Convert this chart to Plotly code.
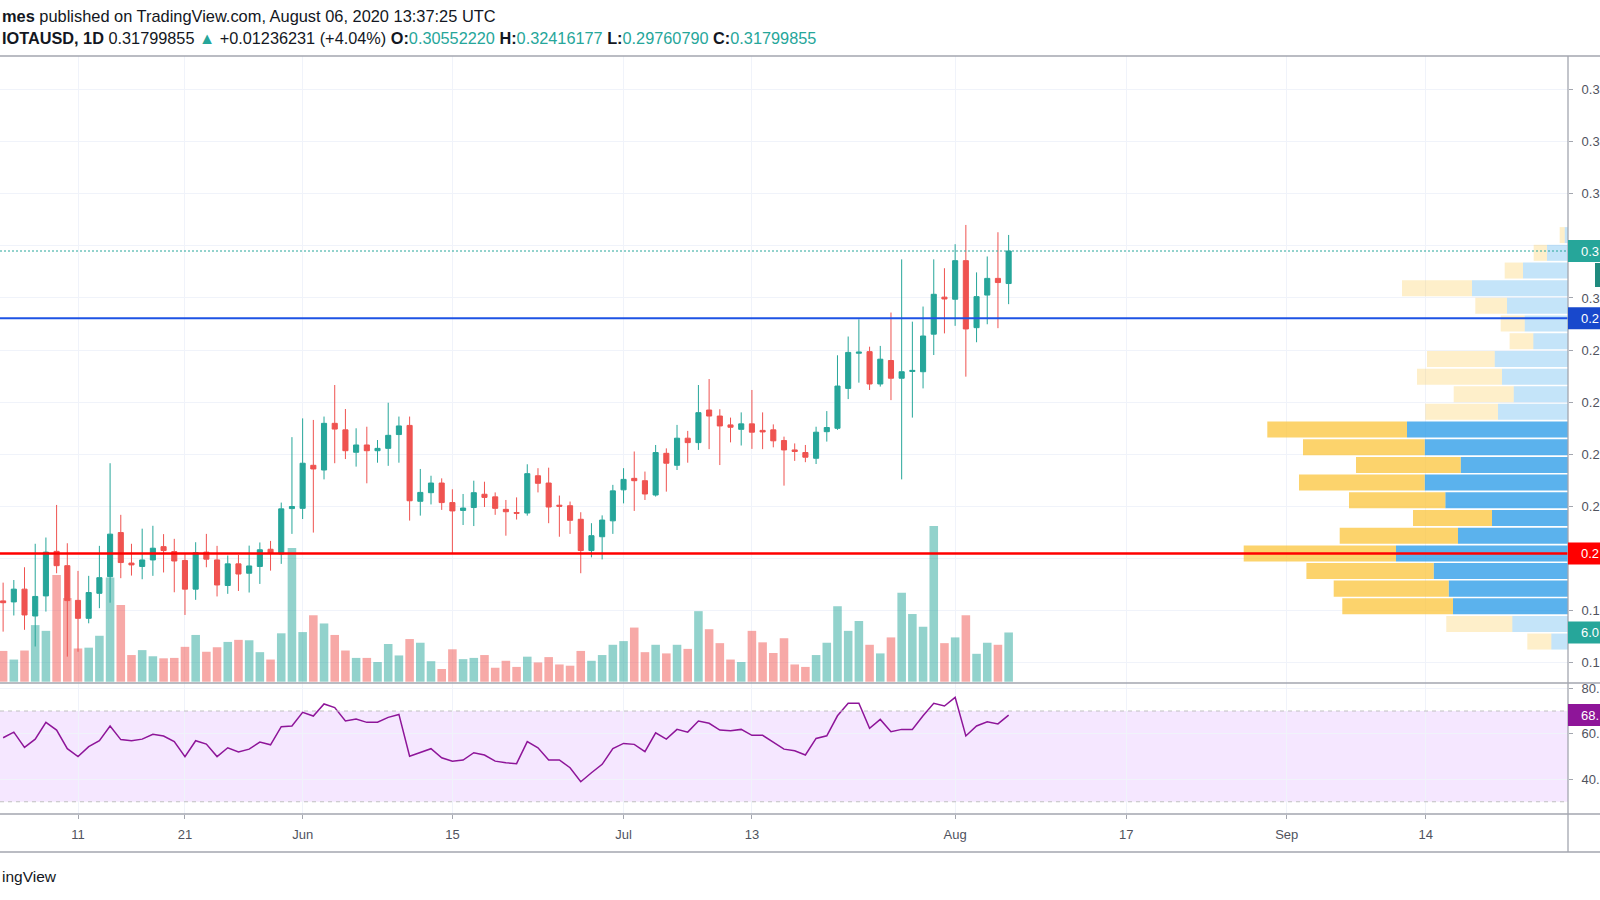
import plotly.graph_objects as go
import pandas as pd

# ---------------- data ----------------
dates = pd.date_range("2020-05-04", "2020-08-06", freq="D")

opens = [0.1838, 0.1834, 0.1883, 0.1780, 0.1857, 0.2028, 0.1973, 0.1840, 0.1771, 0.1867,
         0.1931, 0.2100, 0.1983, 0.1970, 0.1995, 0.2046, 0.2027, 0.1993, 0.1883, 0.2025,
         0.1995, 0.1897, 0.1980, 0.1944, 0.1970, 0.2036, 0.2018, 0.2192,
         0.2193, 0.2358, 0.2340, 0.2519, 0.2494, 0.2408, 0.2436, 0.2414, 0.2423, 0.2476,
         0.2511, 0.2220, 0.2253, 0.2290, 0.2215, 0.2185, 0.2196, 0.2247, 0.2237, 0.2189,
         0.2177, 0.2175, 0.2318, 0.2290, 0.2205, 0.2203, 0.2151, 0.2031, 0.2084, 0.2145,
         0.2264, 0.2308, 0.2299, 0.2244, 0.2404, 0.2358, 0.2462, 0.2445, 0.2570, 0.2547,
         0.2513, 0.2496, 0.2517, 0.2492, 0.2494, 0.2453, 0.2417, 0.2407, 0.2385, 0.2487,
         0.2500, 0.2653, 0.2788, 0.2794, 0.2670, 0.2760, 0.2692, 0.2718, 0.2717, 0.2861,
         0.3003,
         0.2995, 0.3143, 0.2886, 0.3011, 0.3075, 0.30552220]
highs = [0.1908, 0.1918, 0.1967, 0.2057, 0.2081, 0.2206, 0.2059, 0.1953, 0.1934, 0.2049,
         0.2366, 0.2168, 0.2057, 0.2115, 0.2126, 0.2094, 0.2076, 0.2021, 0.2063, 0.2095,
         0.2049, 0.2012, 0.2014, 0.2050, 0.2062, 0.2068, 0.2215, 0.2466,
         0.2538, 0.2532, 0.2545, 0.2666, 0.2574, 0.2500, 0.2506, 0.2455, 0.2598, 0.2545,
         0.2545, 0.2344, 0.2318, 0.2308, 0.2266, 0.2248, 0.2299, 0.2295, 0.2254, 0.2225,
         0.2235, 0.2362, 0.2347, 0.2349, 0.2242, 0.2219, 0.2178, 0.2136, 0.2166, 0.2283,
         0.2347, 0.2411, 0.2334, 0.2436, 0.2423, 0.2513, 0.2490, 0.2666, 0.2689, 0.2573,
         0.2541, 0.2561, 0.2647, 0.2561, 0.2515, 0.2468, 0.2442, 0.2436, 0.2506, 0.2566,
         0.2780, 0.2852, 0.2918, 0.2813, 0.2816, 0.2944, 0.3148, 0.2909, 0.2967, 0.3148,
         0.3114,
         0.3206, 0.3280, 0.3098, 0.3159, 0.3252, 0.32416177]
lows = [0.1720, 0.1782, 0.1727, 0.1663, 0.1797, 0.1944, 0.1624, 0.1643, 0.1752, 0.1810,
        0.1831, 0.1925, 0.1935, 0.1921, 0.1934, 0.1947, 0.1871, 0.1784, 0.1842, 0.1967,
        0.1855, 0.1865, 0.1876, 0.1870, 0.1903, 0.1954, 0.1980, 0.2095,
        0.2152, 0.2100, 0.2304, 0.2366, 0.2382, 0.2353, 0.2289, 0.2368, 0.2356, 0.2368,
        0.2146, 0.2165, 0.2208, 0.2187, 0.2020, 0.2129, 0.2125, 0.2198, 0.2168, 0.2088,
        0.2150, 0.2165, 0.2254, 0.2136, 0.2084, 0.2095, 0.1944, 0.2005, 0.1997, 0.2095,
        0.2212, 0.2183, 0.2225, 0.2238, 0.2257, 0.2340, 0.2368, 0.2417, 0.2420, 0.2359,
        0.2446, 0.2434, 0.2421, 0.2420, 0.2427, 0.2280, 0.2375, 0.2370, 0.2363, 0.2449,
        0.2494, 0.2612, 0.2675, 0.2647, 0.2660, 0.2608, 0.2304, 0.2541, 0.2653, 0.2781,
        0.2864,
        0.2893, 0.2698, 0.2830, 0.2899, 0.2884, 0.29760790]
closes = [0.1831, 0.1883, 0.1784, 0.1855, 0.2025, 0.1973, 0.1839, 0.1771, 0.1870, 0.1927,
          0.2094, 0.1985, 0.1976, 0.1995, 0.2040, 0.2031, 0.1991, 0.1883, 0.2023, 0.1998,
          0.1899, 0.1980, 0.1941, 0.1972, 0.2034, 0.2021, 0.2191, 0.2200,
          0.2366, 0.2344, 0.2519, 0.2497, 0.2414, 0.2436, 0.2414, 0.2423, 0.2473, 0.2509,
          0.2222, 0.2254, 0.2290, 0.2215, 0.2183, 0.2194, 0.2253, 0.2235, 0.2193, 0.2180,
          0.2174, 0.2326, 0.2289, 0.2198, 0.2201, 0.2147, 0.2031, 0.2088, 0.2148, 0.2260,
          0.2304, 0.2299, 0.2248, 0.2407, 0.2366, 0.2462, 0.2445, 0.2560, 0.2547, 0.2509,
          0.2504, 0.2517, 0.2485, 0.2486, 0.2452, 0.2417, 0.2411, 0.2389, 0.2485, 0.2503,
          0.2662, 0.2791, 0.2792, 0.2670, 0.2765, 0.2692, 0.2717, 0.2722, 0.2854, 0.3014,
          0.2996,
          0.3143, 0.2881, 0.3005, 0.3075, 0.3059, 0.31799855]
volumes = [3.75, 2.7, 3.8, 6.9, 6.2, 13.0, 10.2, 4.05, 4.15, 5.6, 12.7, 9.35, 3.25, 3.85,
           3.1, 2.85, 2.9, 4.25, 5.7, 3.65, 4.2, 4.85, 5.1, 5.05, 3.6, 2.7, 5.9, 16.3,
           6.05, 8.1, 7.1, 5.7, 3.8, 2.9, 2.9, 2.4, 4.6, 3.2, 5.2, 4.75, 2.5, 1.55, 3.95,
           2.75, 2.9, 3.25, 1.7, 2.55, 1.8, 3.05, 2.35, 3.0, 2.1, 1.95, 3.75, 2.55, 3.25, 4.5,
           4.95, 6.6, 3.6, 4.5, 3.45, 4.5, 4.0, 8.6, 6.4, 4.7, 2.7, 2.4, 6.2, 4.8, 3.5, 5.3,
           2.1, 1.8, 3.25, 4.75, 9.2, 6.2, 7.4, 4.5, 3.45, 5.4, 10.85, 8.25, 6.7, 19.0, 4.7,
           5.4, 8.1, 3.4, 4.75, 4.5, 6.0]
rsi = [58.2, 60.7, 54.0, 57.6, 65.0, 61.6, 53.4, 49.9, 54.3, 56.9, 63.4, 57.4, 56.9, 57.6,
       59.7, 59.0, 56.5, 49.9, 56.9, 55.4, 49.9, 53.8, 51.9, 53.2, 56.3, 55.1, 63.1, 63.4,
       69.4, 67.8, 73.1, 71.5, 65.6, 66.5, 65.0, 65.1, 67.2, 68.5, 50.1, 51.6, 53.4, 49.4,
       47.9, 48.4, 51.6, 50.6, 47.9, 47.2, 46.8, 56.5, 53.8, 48.4, 48.4, 45.0, 38.8, 42.8,
       46.5, 53.4,
       55.7, 55.3, 52.1, 60.4, 57.6, 61.9, 60.7, 65.6, 64.6, 61.6, 61.3, 61.9, 59.3, 59.3,
       56.3, 53.2, 52.5, 50.6, 57.9, 59.1, 67.9, 73.4, 73.4, 62.4, 66.3, 60.9, 61.9, 61.9,
       67.9, 73.4, 72.2,
       76.0, 59.0, 63.4, 65.3, 64.3, 68.2]

# volume profile (visible range), rows from top to bottom
vp_price = [0.3241, 0.3173, 0.3105, 0.3037, 0.2970, 0.2902, 0.2834, 0.2766, 0.2698, 0.2631,
            0.2563, 0.2495, 0.2427, 0.2359, 0.2292, 0.2224, 0.2156, 0.2088, 0.2020, 0.1953,
            0.1885, 0.1817, 0.1749, 0.1682]
vp_up = [3.3, 21, 45, 96, 61, 43.3, 34.7, 73.3, 66, 54.3, 70, 161, 143.3, 107.3, 143.3,
         122.7, 76, 110, 172, 134.3, 119.3, 115, 55.7, 16.7]
vp_down = [5, 13.3, 18.3, 70, 31.7, 24, 23.7, 67.7, 85, 60, 72.7, 139.7, 121.7, 104.7, 125.7,
           96.3, 79, 118.3, 152.3, 127.3, 115, 110.7, 66, 24]
vp_value_area = [False] * 11 + [True] * 11 + [False] * 2

level_blue = 0.2922
level_red = 0.2020

date_ticks = ["2020-05-11", "2020-05-21", "2020-06-01", "2020-06-15", "2020-07-01",
              "2020-07-13", "2020-08-01", "2020-08-17", "2020-09-01", "2020-09-14"]
date_labels = ["11", "21", "Jun", "15", "Jul", "13", "Aug", "17", "Sep", "14"]
# the price scale is cut at the window edge: only the leading characters are visible
price_ticks = [0.16, 0.18, 0.20, 0.22, 0.24, 0.26, 0.28, 0.30, 0.32, 0.34, 0.36, 0.38]
price_labels = ["0.1", "0.1", "", "0.2", "0.2", "0.2", "0.2", "0.3", "", "0.3", "0.3", "0.3"]
rsi_ticks = [40, 60, 80]
rsi_labels = ["40.", "60.", "80."]

# ---------------- layout helpers ----------------
W, H = 1600, 900
PR = 1568          # right edge of plotting area (px)
TOP, SEP, AXB, BOT = 56, 683, 814, 852


def py(y):
    return (AXB - y) / (AXB - TOP)


def pxx(x):
    return x / PR


UP = "#26a69a"
DN = "#ef5350"
TXT = "#131722"
AX = "#50535e"
GRID = "#f0f3fa"
FRAME = "#a3a6af"
FONT = "Liberation Sans"

fig = go.Figure()

vol_colors = ["rgba(38,166,154,0.5)" if c >= o else "rgba(239,83,80,0.5)"
              for o, c in zip(opens, closes)]
fig.add_trace(go.Bar(x=dates, y=volumes, marker=dict(color=vol_colors, line=dict(width=0)),
                     width=0.8 * 86400000, xaxis="x", yaxis="y3", hoverinfo="skip"))

fig.add_trace(go.Candlestick(
    x=dates, open=opens, high=highs, low=lows, close=closes,
    increasing=dict(line=dict(color=UP, width=1), fillcolor=UP),
    decreasing=dict(line=dict(color=DN, width=1), fillcolor=DN),
    whiskerwidth=0, xaxis="x", yaxis="y"))

up_cols = ["rgba(21,146,230,0.7)" if v else "rgba(21,146,230,0.25)" for v in vp_value_area]
dn_cols = ["rgba(251,192,45,0.7)" if v else "rgba(251,192,45,0.25)" for v in vp_value_area]
fig.add_trace(go.Bar(y=vp_price, x=vp_up, base=0, orientation="h", width=0.00614,
                     marker=dict(color=up_cols, line=dict(width=0)), xaxis="x2", yaxis="y"))
fig.add_trace(go.Bar(y=vp_price, x=vp_down, base=vp_up, orientation="h", width=0.00614,
                     marker=dict(color=dn_cols, line=dict(width=0)), xaxis="x2", yaxis="y"))

fig.add_trace(go.Scatter(x=dates, y=rsi, mode="lines", line=dict(color="#8e1599", width=1.5),
                         xaxis="x", yaxis="y2"))

shapes = []
# RSI band
shapes.append(dict(type="rect", xref="paper", x0=0, x1=1, yref="y2", y0=30, y1=70,
                   fillcolor="rgba(153,21,255,0.1)", line=dict(width=0), layer="below"))
for lv in (70, 30):
    shapes.append(dict(type="line", xref="paper", x0=0, x1=1, yref="y2", y0=lv, y1=lv,
                       line=dict(color="#c0c0c0", width=1, dash="4px,4px")))
# horizontal levels
shapes.append(dict(type="line", xref="paper", x0=0, x1=1, yref="y", y0=level_red, y1=level_red,
                   line=dict(color="#ff0000", width=2.5)))
shapes.append(dict(type="line", xref="paper", x0=0, x1=1, yref="y", y0=level_blue, y1=level_blue,
                   line=dict(color="#1e53e5", width=2)))
shapes.append(dict(type="line", xref="paper", x0=0, x1=1, yref="y", y0=closes[-1], y1=closes[-1],
                   line=dict(color=UP, width=1, dash="2px,2px")))
# frame lines
for yy in (TOP, SEP, AXB, BOT):
    shapes.append(dict(type="line", xref="paper", x0=0, x1=W / PR, yref="paper",
                       y0=py(yy), y1=py(yy), line=dict(color=FRAME, width=1.3)))
shapes.append(dict(type="line", xref="paper", x0=1, x1=1, yref="paper", y0=py(BOT), y1=py(TOP),
                   line=dict(color=FRAME, width=1.3)))

annotations = []


def price_label(yref, val, color, text, shift=0):
    shapes.append(dict(type="rect", xref="paper", xsizemode="pixel", xanchor=1, x0=0, x1=40,
                       yref=yref, ysizemode="pixel", yanchor=val, y0=-11 + shift, y1=11 + shift,
                       fillcolor=color, line=dict(width=0)))
    annotations.append(dict(xref="paper", x=pxx(1579), xanchor="left", yref=yref, y=val,
                            yanchor="middle", yshift=shift, text=text, showarrow=False,
                            font=dict(color="white", size=13, family=FONT)))


price_label("y", closes[-1], UP, "0.3")
price_label("y", level_blue, "#1848cc", "0.2")
price_label("y", level_red, "#ff0000", "0.2")
price_label("y3", volumes[-1], UP, "6.0")
price_label("y2", rsi[-1], "#8e1599", "68.")
# partially visible marker at the far right
shapes.append(dict(type="rect", xref="paper", xsizemode="pixel", xanchor=1, x0=27, x1=40,
                   yref="paper", y0=py(287), y1=py(263), fillcolor="#1f8a7e", line=dict(width=0)))

g = "color:%s" % UP
line2 = ("<b>IOTAUSD, 1D</b> 0.31799855 <span style='%s'>▲</span> +0.01236231 (+4.04%%) "
         "<b>O:</b><span style='%s'>0.30552220</span> <b>H:</b><span style='%s'>0.32416177</span> "
         "<b>L:</b><span style='%s'>0.29760790</span> <b>C:</b><span style='%s'>0.31799855</span>"
         % (g, g, g, g, g))
annotations.append(dict(xref="paper", x=0, xanchor="left", yref="paper", y=py(15.5),
                        yanchor="middle", showarrow=False,
                        text="<b>mes</b> published on TradingView.com, August 06, 2020 13:37:25 UTC",
                        font=dict(color=TXT, size=16.4, family=FONT)))
annotations.append(dict(xref="paper", x=0, xanchor="left", yref="paper", y=py(38),
                        yanchor="middle", showarrow=False, text=line2,
                        font=dict(color=TXT, size=16.3, family=FONT)))
annotations.append(dict(xref="paper", x=0, xanchor="left", yref="paper", y=py(876),
                        yanchor="middle", showarrow=False, text="ingView",
                        font=dict(color=TXT, size=15.5, family=FONT)))

fig.update_layout(
    width=W, height=H, autosize=False,
    margin=dict(l=0, r=W - PR, t=TOP, b=H - AXB, pad=0, autoexpand=False),
    paper_bgcolor="white", plot_bgcolor="white",
    showlegend=False, barmode="overlay", boxgap=0.32,
    font=dict(family=FONT, color=AX, size=13),
    xaxis=dict(type="date", range=["2020-05-03 17:00", "2020-09-27 07:00"], anchor="y2",
               tickvals=date_ticks, ticktext=date_labels, ticks="outside", ticklen=4,
               tickcolor=FRAME, showgrid=True, gridcolor=GRID, zeroline=False, showline=False,
               rangeslider=dict(visible=False), ticklabelstandoff=4, automargin=False,
               tickfont=dict(size=13, color=AX, family=FONT)),
    xaxis2=dict(overlaying="x", range=[PR, 0], visible=False, anchor="y", automargin=False),
    yaxis=dict(domain=[py(SEP), 1], side="right", range=[0.1523, 0.3928], anchor="x",
               tickvals=price_ticks, ticktext=price_labels,
               ticks="outside", ticklen=4, tickcolor=FRAME, showgrid=True, gridcolor=GRID,
               zeroline=False, showline=False, ticklabelstandoff=6, automargin=False,
               tickfont=dict(size=13, color=AX, family=FONT)),
    yaxis2=dict(domain=[0, py(SEP)], side="right", range=[24.6, 82.35], anchor="x",
                tickvals=rsi_ticks, ticktext=rsi_labels,
                ticks="outside", ticklen=4, tickcolor=FRAME, showgrid=True, gridcolor=GRID,
                zeroline=False, showline=False, ticklabelstandoff=6, automargin=False,
                tickfont=dict(size=13, color=AX, family=FONT)),
    yaxis3=dict(overlaying="y", range=[-0.16, 76.3], visible=False, anchor="x",
                automargin=False),
    shapes=shapes, annotations=annotations,
)

fig.write_html("out.html", config={"displayModeBar": False},
               post_script="document.body.style.margin='0';document.body.style.overflow='hidden';")
